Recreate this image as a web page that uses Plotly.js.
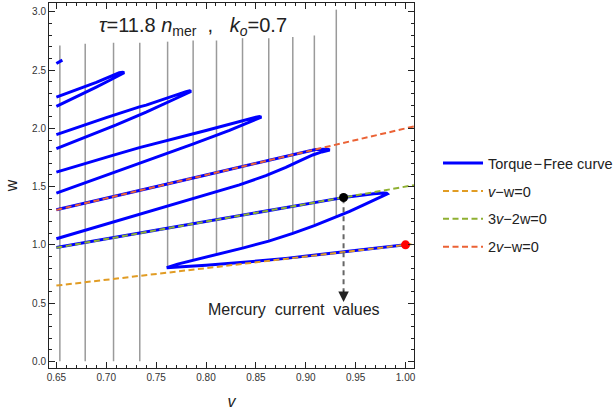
<!DOCTYPE html>
<html><head><meta charset="utf-8">
<script src="https://cdn.plot.ly/plotly-3.0.1.min.js"></script>
<style>html,body{margin:0;padding:0;background:#fff}#chart{width:614px;height:412px}</style>
</head><body><div id="chart"></div>
<script>
// Vertical gray lines (v position, bottom w, top w)
const gridV      = [0.6535, 0.6789, 0.7073, 0.7336, 0.7615, 0.7871, 0.8105, 0.8366, 0.8629, 0.8870, 0.9086, 0.9306];
const gridBottom = [0.0,    0.0,    0.0,    0.0,    0.81,   0.867,  0.912,  0.972,  1.032,  1.098,  1.165,  1.239];
const gridTop    = [2.712,  2.727,  2.736,  2.736,  2.745,  2.755,  2.755,  2.775,  2.775,  2.784,  2.798,  3.02];

// Torque-free curve pieces
const lowerBranchV = [1.0, 0.97, 0.94, 0.91, 0.88, 0.86, 0.84, 0.82, 0.80, 0.78, 0.7606];
const lowerBranchW = [1.0, 0.97, 0.94, 0.911, 0.884, 0.867, 0.851, 0.837, 0.825, 0.814, 0.804];
const loopALowerV = [0.7606, 0.7715, 0.7871, 0.8105, 0.8366, 0.8629, 0.887, 0.9086, 0.9306, 0.944, 0.957, 0.968, 0.975, 0.9795, 0.9818];
const loopALowerW = [0.804, 0.835, 0.867, 0.912, 0.972, 1.032, 1.098, 1.165, 1.239, 1.287, 1.339, 1.385, 1.413, 1.428, 1.438];
const loopAUpperV = [0.9818, 0.981, 0.978, 0.968, 0.955, 0.9379, 0.92, 0.80, 0.70, 0.65];
const loopAUpperW = [1.438, 1.444, 1.446, 1.439, 1.425, 1.407, 1.38, 1.20, 1.05, 0.977];
const loopBLowerV = [0.65, 0.70, 0.7332, 0.77, 0.80, 0.8335, 0.86, 0.88, 0.895, 0.907, 0.916, 0.9215, 0.924];
const loopBLowerW = [1.053, 1.18, 1.265, 1.355, 1.43, 1.515, 1.595, 1.665, 1.725, 1.772, 1.798, 1.810, 1.815];
const loopBUpperV = [0.924, 0.9225, 0.918, 0.91, 0.90, 0.80, 0.70, 0.65];
const loopBUpperW = [1.815, 1.820, 1.822, 1.819, 1.80, 1.60, 1.40, 1.302];
const loopCLowerV = [0.65, 0.70, 0.7332, 0.76, 0.7867, 0.8235, 0.84, 0.85, 0.8555];
const loopCLowerW = [1.445, 1.597, 1.697, 1.78, 1.865, 1.983, 2.04, 2.078, 2.097];
const loopCUpperV = [0.8555, 0.8535, 0.85, 0.80, 0.7332, 0.7065, 0.65];
const loopCUpperW = [2.097, 2.102, 2.097, 1.982, 1.835, 1.768, 1.625];
const loopDLowerV = [0.65, 0.68, 0.71, 0.74, 0.76, 0.775, 0.785];
const loopDLowerW = [1.826, 1.925, 2.03, 2.14, 2.22, 2.28, 2.317];
const loopDUpperV = [0.785, 0.7835, 0.78, 0.74, 0.7332, 0.70, 0.65];
const loopDUpperW = [2.317, 2.322, 2.316, 2.20, 2.185, 2.093, 1.946];
const loopELowerV = [0.65, 0.67, 0.69, 0.705, 0.718];
const loopELowerW = [2.19, 2.27, 2.355, 2.42, 2.478];
const loopEUpperV = [0.718, 0.7165, 0.713, 0.69, 0.67, 0.65];
const loopEUpperW = [2.478, 2.482, 2.478, 2.395, 2.332, 2.269];
const loopFV = [0.65, 0.653, 0.656];
const loopFW = [2.557, 2.572, 2.586];

// Resonance lines
const resV = [0.65, 1.0085];
const res11W = [0.65, 1.0085];   // v-w=0
const res32W = [0.975, 1.5128];  // 3v-2w=0
const res21W = [1.30, 2.017];    // 2v-w=0

// Mercury marker and arrow
const mercuryV = [0.9379], mercuryW = [1.407];
const arrowV = [0.9379, 0.9379], arrowW = [1.40, 0.60];
const arrowTipW = 0.51;
const startV = [1.0], startW = [1.0];

const gx = [], gy = [];
gridV.forEach((v, i) => { gx.push(v, v, null); gy.push(gridBottom[i], gridTop[i], null); });

const segments = [
  [lowerBranchV.concat(loopALowerV, loopAUpperV), lowerBranchW.concat(loopALowerW, loopAUpperW)],
  [loopBLowerV.concat(loopBUpperV), loopBLowerW.concat(loopBUpperW)],
  [loopCLowerV.concat(loopCUpperV), loopCLowerW.concat(loopCUpperW)],
  [loopDLowerV.concat(loopDUpperV), loopDLowerW.concat(loopDUpperW)],
  [loopELowerV.concat(loopEUpperV), loopELowerW.concat(loopEUpperW)],
  [loopFV, loopFW]
];
const cx = [], cy = [];
segments.forEach((s, i) => { if (i) { cx.push(null); cy.push(null); } cx.push(...s[0]); cy.push(...s[1]); });

const FONT = 'Liberation Sans, Arial, sans-serif';
const dash = '6px,3.5px';

const traces = [
  {x: gx, y: gy, mode: 'lines', line: {color: '#9a9a9a', width: 1.5}, showlegend: false, hoverinfo: 'skip'},
  {x: cx, y: cy, mode: 'lines', name: 'Torque\u200a\u2212\u200aFree curve', legendgroup: 'a',
   line: {color: '#0000ff', width: 3}, connectgaps: false},
  {x: resV, y: res11W, mode: 'lines', name: '<i>v</i>\u2212w=0', legendgroup: 'b', line: {color: '#E19C24', width: 2, dash: dash}},
  {x: resV, y: res32W, mode: 'lines', name: '3<i>v</i>\u22122w=0', legendgroup: 'c', line: {color: '#8FB032', width: 2, dash: dash}},
  {x: resV, y: res21W, mode: 'lines', name: '2<i>v</i>\u2212w=0', legendgroup: 'd', line: {color: '#EB6235', width: 2, dash: dash}},
  {x: arrowV, y: arrowW, mode: 'lines', line: {color: '#666', width: 2, dash: '5px,4px'}, showlegend: false},
  {x: mercuryV, y: mercuryW, mode: 'markers', marker: {color: '#000', size: 9}, showlegend: false},
  {x: startV, y: startW, mode: 'markers', marker: {color: '#ff0000', size: 9}, showlegend: false, cliponaxis: false}
];

const axisCommon = {
  ticks: 'inside', ticklen: 6, tickwidth: 1, tickcolor: '#222', mirror: 'ticks',
  showline: true, linecolor: '#222', linewidth: 1, showgrid: false, zeroline: false,
  tickfont: {size: 10, color: '#333', family: FONT}, automargin: false
};

const layout = {
  width: 614, height: 412,
  margin: {l: 49, r: 200, t: 3, b: 44, autoexpand: false},
  paper_bgcolor: '#fff', plot_bgcolor: '#fff',
  font: {family: FONT, color: '#222'},
  showlegend: true,
  legend: {x: 1.0658, y: 0.605, xanchor: 'left', yanchor: 'top', traceorder: 'grouped', tracegroupgap: 6,
           font: {size: 14.5, family: FONT, color: '#222'}, bgcolor: 'rgba(0,0,0,0)', itemwidth: 40},
  xaxis: Object.assign({}, axisCommon, {
    range: [0.6426, 1.0085], tick0: 0.65, dtick: 0.05, tickformat: '.2f',
    minor: {dtick: 0.01, ticks: 'inside', ticklen: 3, tickcolor: '#222', showgrid: false},
    title: {text: '<i>v</i>', font: {size: 16, family: FONT, color: '#222'}, standoff: 13}
  }),
  yaxis: Object.assign({}, axisCommon, {
    range: [-0.0575, 3.077], tick0: 0, dtick: 0.5, tickformat: '.1f',
    minor: {dtick: 0.1, ticks: 'inside', ticklen: 3, tickcolor: '#222', showgrid: false},
    title: {text: 'w', font: {size: 16, family: FONT, color: '#222'}, standoff: 10}
  }),
  annotations: [
    {xref: 'paper', yref: 'paper', x: 0.1315, y: 0.935, xanchor: 'left', yanchor: 'middle', showarrow: false,
     text: '<i>\u03c4</i>=11.8 <i>n</i><sub>mer</sub>\u00a0\u00a0,\u00a0\u00a0\u00a0<i>k</i><sub><i>o</i></sub>=0.7',
     font: {size: 20, family: FONT, color: '#222'}},
    {x: 0.8882, y: 0.446, xref: 'x', yref: 'y', showarrow: false,
     text: 'Mercury\u00a0 current\u00a0 values', font: {size: 16, family: FONT, color: '#222'}},
    {x: arrowV[0], y: arrowTipW, ax: arrowV[0], ay: 0.62, xref: 'x', yref: 'y', axref: 'x', ayref: 'y',
     showarrow: true, arrowhead: 2, arrowsize: 1.4, arrowwidth: 1.5, arrowcolor: '#222', text: '', standoff: 0}
  ]
};

Plotly.newPlot('chart', traces, layout, {displayModeBar: false, staticPlot: true});
</script>
</body></html>
